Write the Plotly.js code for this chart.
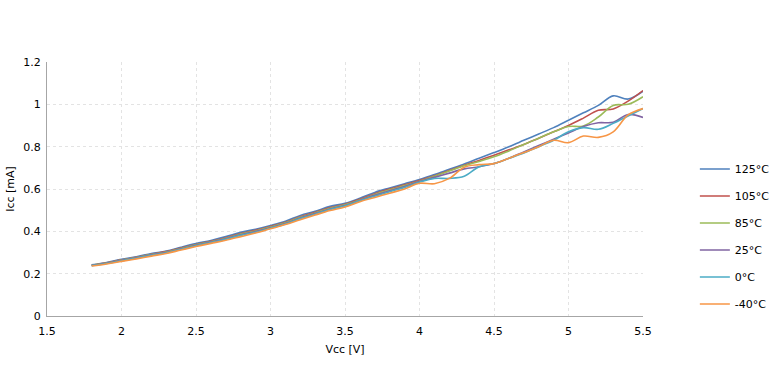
<!DOCTYPE html>
<html>
<head>
<meta charset="utf-8">
<script src="https://cdn.plot.ly/plotly-3.0.1.min.js"></script>
<style>html,body{margin:0;padding:0;background:#fff;}#chart{width:770px;height:376px;}</style>
</head>
<body>
<div id="chart"></div>
<script>
const vcc = [1.8,1.9,2.0,2.1,2.2,2.3,2.4,2.5,2.6,2.7,2.8,2.9,3.0,3.1,3.2,3.3,3.4,3.5,3.6,3.7,3.8,3.9,4.0,4.1,4.2,4.3,4.4,4.5,4.6,4.7,4.8,4.9,5.0,5.1,5.2,5.3,5.4,5.5];
const seriesNames = ["125°C","105°C","85°C","25°C","0°C","-40°C"];
const icc125 = [0.242,0.253,0.268,0.280,0.295,0.307,0.325,0.342,0.357,0.375,0.395,0.410,0.428,0.448,0.475,0.495,0.518,0.532,0.556,0.584,0.605,0.625,0.645,0.668,0.693,0.718,0.745,0.772,0.800,0.830,0.860,0.890,0.925,0.960,0.995,1.040,1.025,1.062];
const icc105 = [0.240,0.251,0.265,0.277,0.292,0.304,0.321,0.338,0.353,0.370,0.390,0.405,0.423,0.443,0.469,0.490,0.512,0.528,0.551,0.578,0.600,0.620,0.640,0.662,0.687,0.712,0.735,0.760,0.785,0.810,0.840,0.870,0.900,0.935,0.972,0.978,1.015,1.065];
const icc85 = [0.240,0.250,0.264,0.276,0.290,0.302,0.319,0.336,0.351,0.367,0.387,0.402,0.420,0.440,0.466,0.487,0.509,0.525,0.548,0.574,0.596,0.616,0.636,0.660,0.685,0.710,0.730,0.752,0.780,0.810,0.840,0.870,0.895,0.898,0.940,0.995,1.000,1.036];
const icc25 = [0.239,0.249,0.263,0.275,0.289,0.300,0.317,0.334,0.349,0.365,0.384,0.399,0.417,0.437,0.463,0.484,0.506,0.522,0.546,0.570,0.592,0.612,0.635,0.655,0.675,0.695,0.705,0.720,0.745,0.775,0.805,0.835,0.865,0.895,0.913,0.915,0.952,0.938];
const icc0 = [0.238,0.248,0.261,0.273,0.287,0.298,0.315,0.332,0.347,0.362,0.381,0.396,0.415,0.435,0.460,0.481,0.503,0.520,0.544,0.566,0.587,0.607,0.632,0.650,0.650,0.660,0.705,0.720,0.745,0.770,0.800,0.830,0.870,0.890,0.882,0.910,0.945,0.980];
const iccM40 = [0.236,0.246,0.258,0.270,0.283,0.295,0.312,0.328,0.343,0.358,0.375,0.392,0.412,0.432,0.455,0.477,0.498,0.515,0.540,0.560,0.580,0.600,0.627,0.625,0.650,0.703,0.715,0.720,0.745,0.772,0.800,0.830,0.819,0.850,0.844,0.870,0.950,0.980];
const seriesData = [icc125, icc105, icc85, icc25, icc0, iccM40];
const colors = ["#4f81bd","#c0504d","#9bbb59","#8064a2","#4bacc6","#f79646"];

const traces = seriesData.map((ys, i) => ({
  x: vcc, y: ys, name: seriesNames[i], type: "scatter", mode: "lines",
  line: {color: colors[i], width: 1.6, shape: "spline", smoothing: 1},
  legendgroup: "g" + i
}));

const fontFam = "DejaVu Sans, Verdana, sans-serif";
const layout = {
  width: 770, height: 376,
  margin: {l: 47, r: 127, t: 62, b: 60, autoexpand: false},
  paper_bgcolor: "#fff", plot_bgcolor: "#fff",
  font: {family: fontFam, size: 11, color: "#000"},
  showlegend: true,
  legend: {x: 1.087, y: 0.313, xanchor: "left", yanchor: "middle",
           traceorder: "grouped", tracegroupgap: 8, itemwidth: 30,
           font: {family: fontFam, size: 11, color: "#000"}, bgcolor: "rgba(0,0,0,0)"},
  xaxis: {range: [1.5, 5.5], dtick: 0.5, tick0: 1.5, showgrid: true, gridcolor: "#e3e3e3", griddash: "dot",
          showline: true, linecolor: "#a6a6a6", linewidth: 1, zeroline: false, ticks: "",
          ticklabelstandoff: 5,
          tickfont: {family: fontFam, size: 11},
          title: {text: "Vcc [V]", font: {family: fontFam, size: 11}, standoff: 8}},
  yaxis: {range: [0, 1.2], dtick: 0.2, showgrid: true, gridcolor: "#e3e3e3", griddash: "dot",
          showline: true, linecolor: "#a6a6a6", linewidth: 1, zeroline: false, ticks: "",
          ticklabelstandoff: 3,
          tickfont: {family: fontFam, size: 11},
          title: {text: "Icc [mA]", font: {family: fontFam, size: 11}, standoff: 6}}
};
Plotly.newPlot("chart", traces, layout, {displayModeBar: false, staticPlot: true});
</script>
</body>
</html>
